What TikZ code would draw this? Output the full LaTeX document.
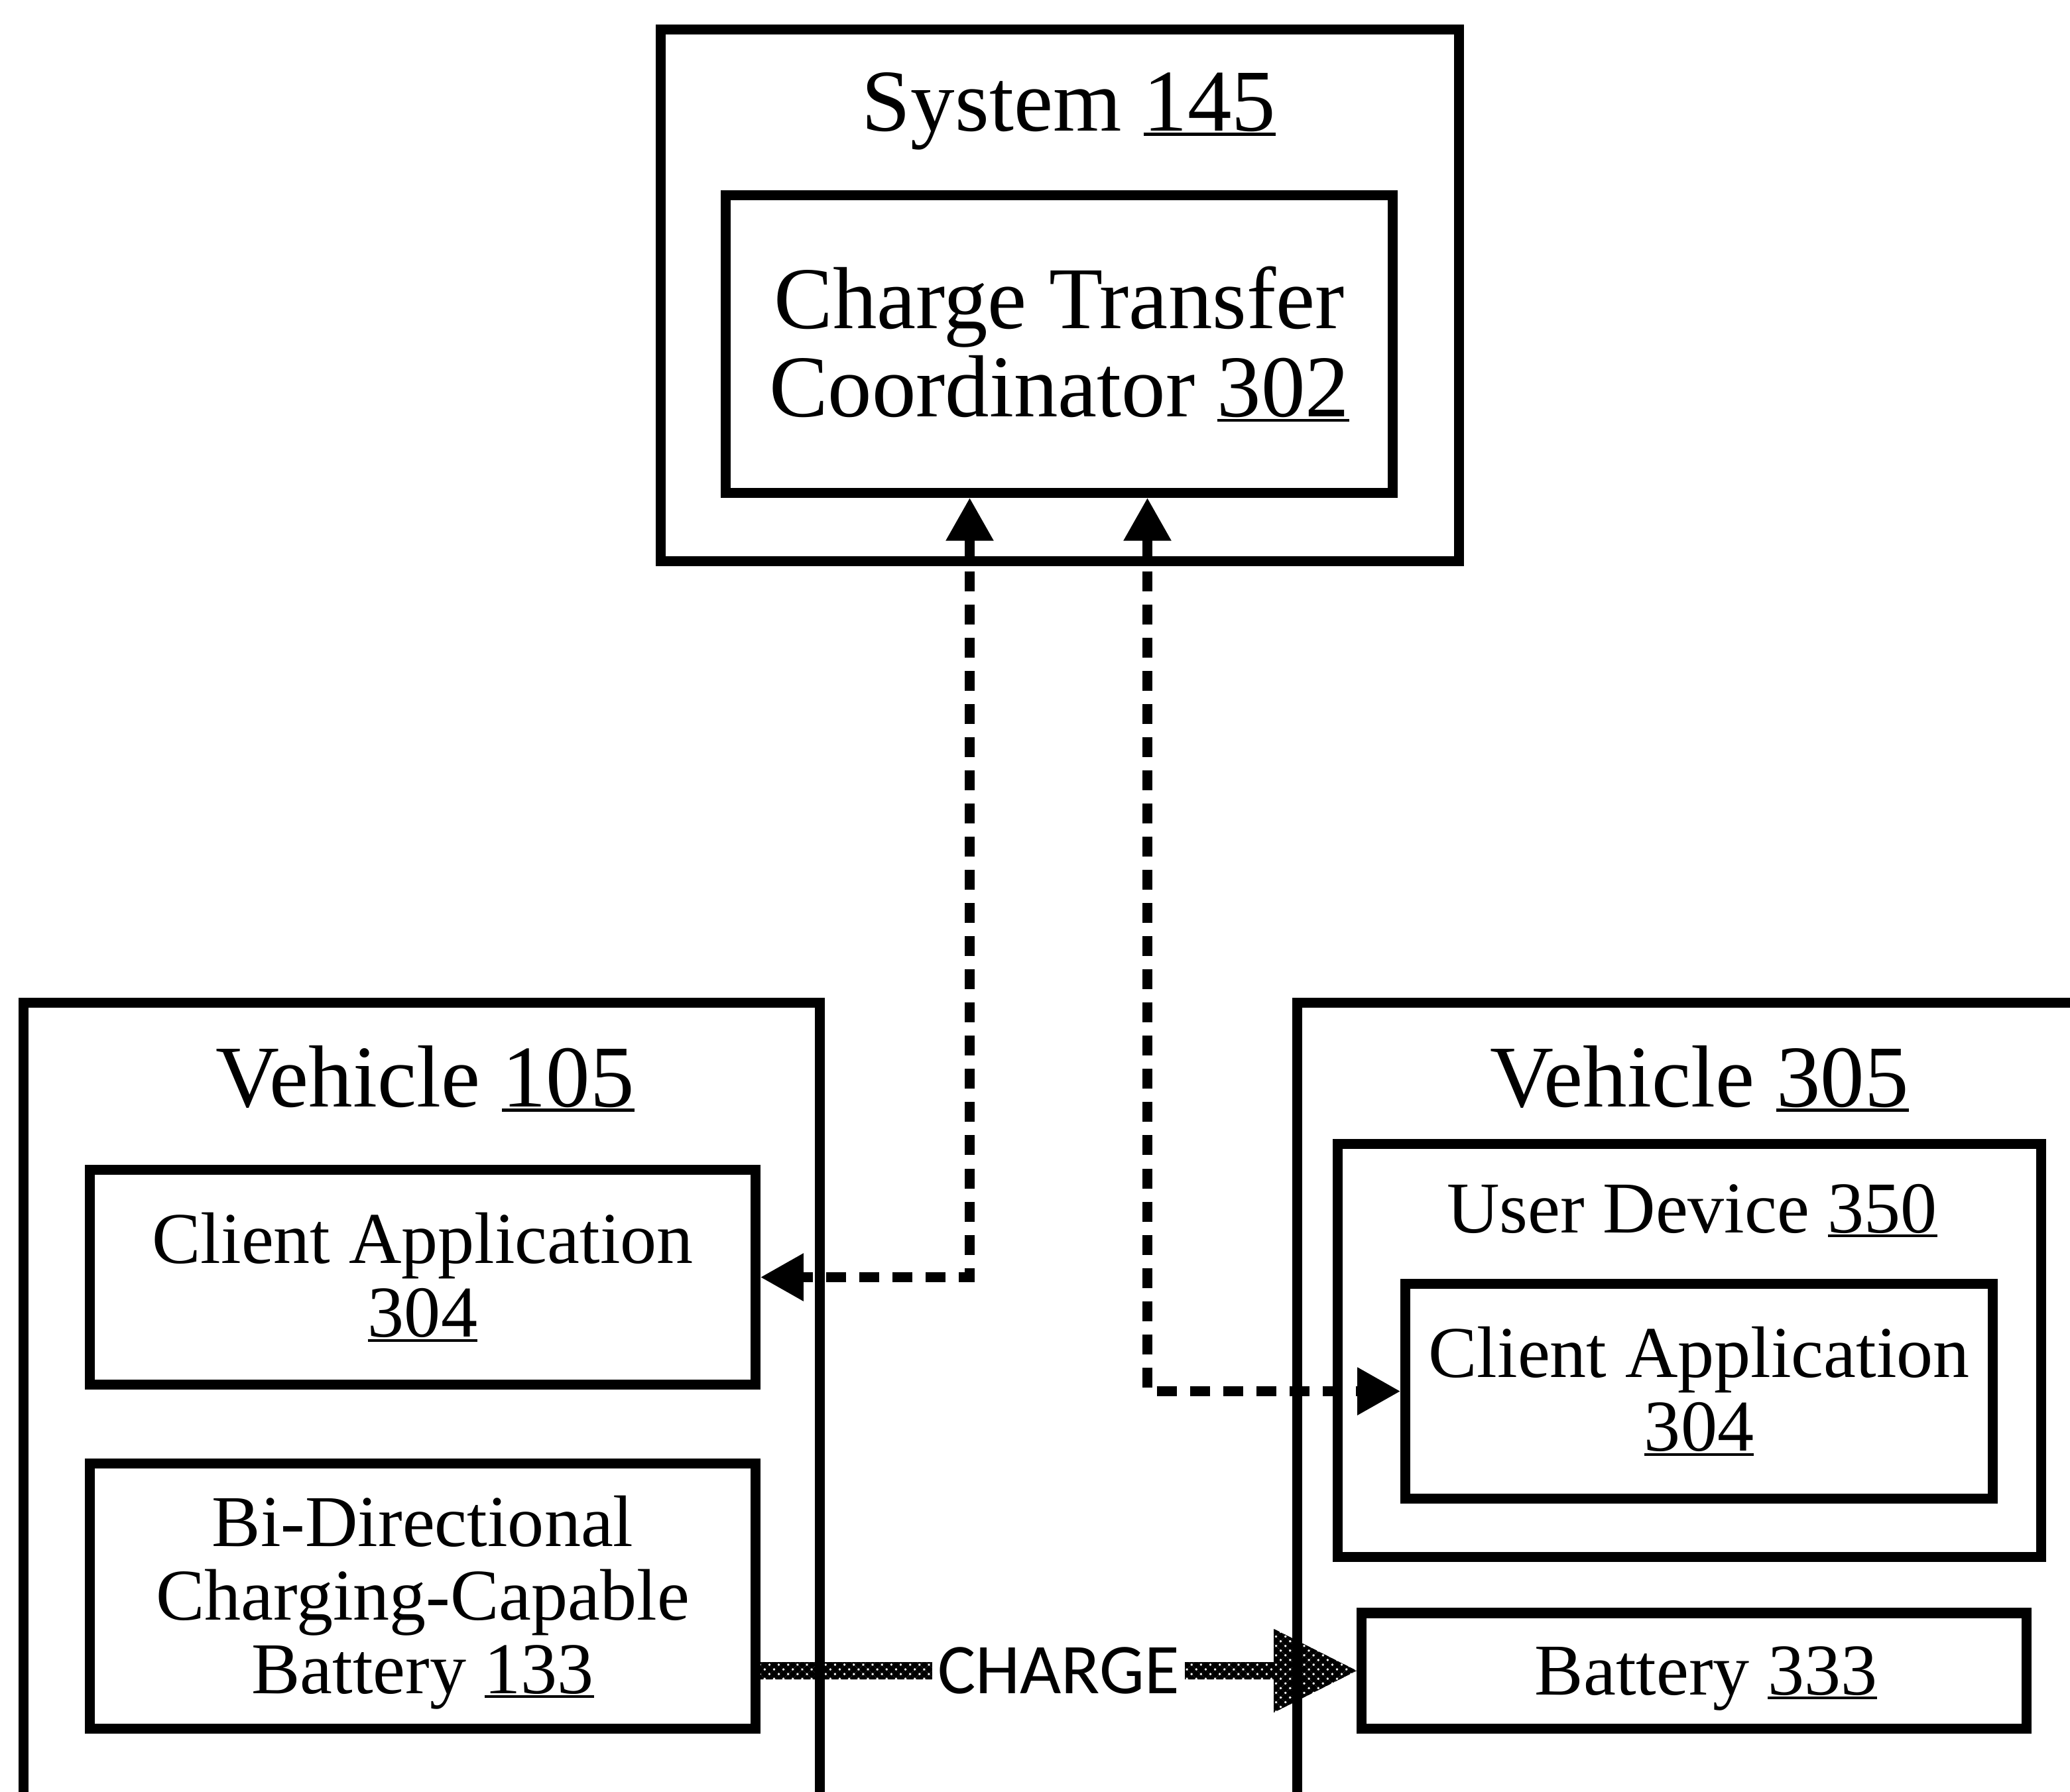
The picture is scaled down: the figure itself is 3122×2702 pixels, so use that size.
\documentclass[tikz,border=0pt]{standalone}
\usepackage{fontspec}
\setmainfont{Liberation Serif}
\newfontfamily\chargefont{Carlito}
\usetikzlibrary{arrows.meta,calc,patterns.meta}
\newcommand\refnum[1]{\leavevmode\setbox0\hbox{#1}\rlap{\rule[-0.06em]{\wd0}{0.035em}}\box0}
\begin{document}
\begin{tikzpicture}[x=0.01cm,y=-0.01cm,
  box/.style={draw, rectangle, line width=0.15cm, inner sep=0pt, align=center},
  bigtext/.style={font=\fontsize{37.8pt}{37.8pt}\selectfont},
  smalltext/.style={font=\fontsize{31.3pt}{31.6pt}\selectfont},
  title/.style={anchor=base, inner sep=0pt},
  dasharrow/.style={line width=0.15cm, dash pattern=on 0.3cm off 0.2cm,
    arrows={Triangle[length=0.65cm,width=0.68cm]-Triangle[length=0.65cm,width=0.68cm]}},
  hatch/.style={pattern={Lines[angle=45,distance=0.1cm,line width=0.07cm]},
    postaction={pattern={Lines[angle=-45,distance=0.1cm,line width=0.07cm]}}},
  chargelabel/.style={font=\chargefont\fontsize{30.6pt}{30.6pt}\selectfont, fill=white, inner xsep=0.08cm, inner ysep=0.05cm}
]
\useasboundingbox[fill=white] (0,0) rectangle (3122,2702);

% System 145
\node[box, minimum width=12.03cm, minimum height=8.01cm] (sys) at (1598.5,445.5) {};
\node[title, bigtext] (systitle) at (1612,197) {System \refnum{145}};
\node[box, bigtext, minimum width=10.05cm, minimum height=4.48cm] (ctc) at (1597.5,519)
  {Charge Transfer\\Coordinator \refnum{302}};

% Vehicle 105
\node[box, minimum width=12.00cm, minimum height=13.87cm] (v105) at (636,2206.5) {};
\node[title, bigtext] (v105title) at (641,1669) {Vehicle \refnum{105}};
\node[box, smalltext, minimum width=10.03cm, minimum height=3.23cm] (ca1) at (637.5,1926.5)
  {Client Application\\\refnum{304}};
\node[box, smalltext, minimum width=10.03cm, minimum height=3.99cm] (b133) at (637.5,2407.5)
  {\rule{0pt}{0.87em}Bi-Directional\\Charging-Capable\\Battery \refnum{133}};

% Vehicle 305
\node[box, minimum width=13.43cm, minimum height=13.87cm] (v305) at (2628.5,2206.5) {};
\node[title, bigtext] (v305title) at (2563,1669) {Vehicle \refnum{305}};
\node[box, minimum width=10.60cm, minimum height=6.22cm] (ud) at (2548,2037) {};
\node[title, smalltext] (udtitle) at (2552,1859) {User Device \refnum{350}};
\node[box, smalltext, minimum width=8.85cm, minimum height=3.23cm] (ca2) at (2562.5,2098.5)
  {Client Application\\\refnum{304}};
\node[box, smalltext, minimum width=10.02cm, minimum height=1.74cm] (b333) at (2555,2520)
  {\hspace*{0.36cm}\rule{0pt}{0.87em}Battery \refnum{333}};

% dashed communication arrows
\draw[dasharrow] ($(ctc.south)+(-135,0)$) |- (ca1.east);
\draw[dasharrow] ($(ctc.south)+(133,0)$) |- (ca2.west);

% charge arrow
\path[hatch]
  ($(b133.east |- b333.west)+(-10,-13)$) -- ($(b333.west)+(-125,-13)$) --
  ($(b333.west)+(-125,-63)$) -- (b333.west) -- ($(b333.west)+(-125,63)$) --
  ($(b333.west)+(-125,13)$) -- ($(b133.east |- b333.west)+(-10,13)$) -- cycle;
\node[chargelabel] (chg) at ($(b133.east |- b333.west)!0.5!(b333.west)$) {CHARGE};
\end{tikzpicture}
\end{document}
